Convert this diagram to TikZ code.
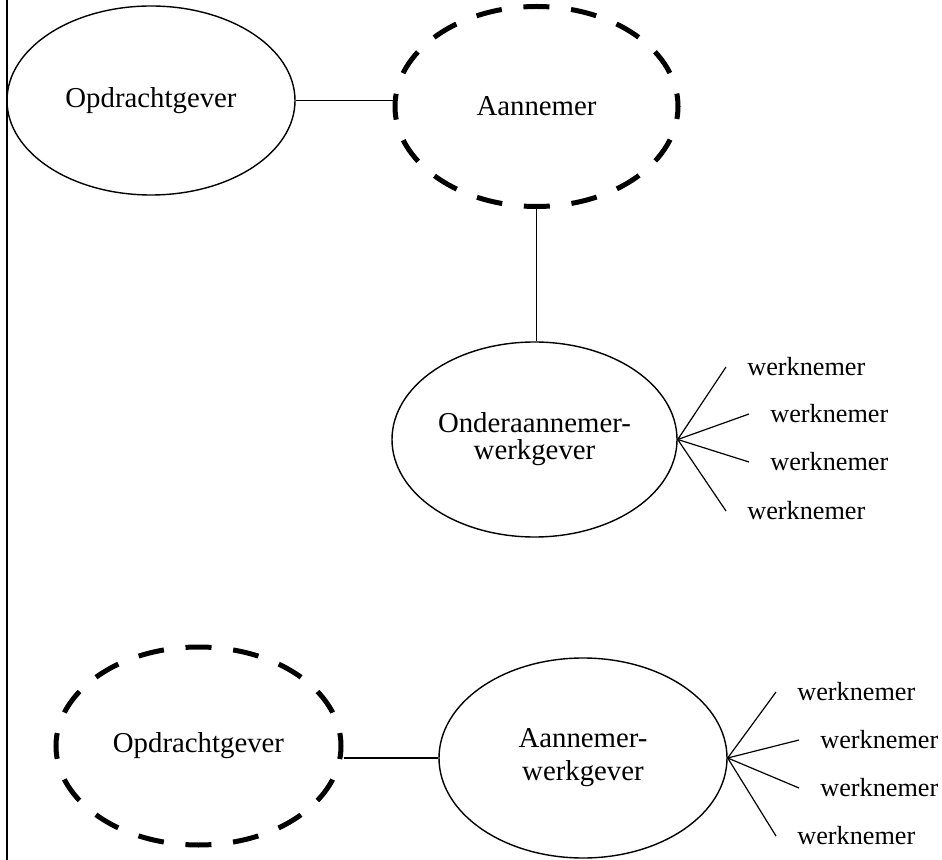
\documentclass[tikz,border=0pt]{standalone}
\usepackage{fontspec}
\setmainfont{Liberation Serif}
\usetikzlibrary{shapes.geometric}

\begin{document}
\begin{tikzpicture}[x=0.5pt,y=-0.5pt,
  partij/.style={draw, ellipse, inner sep=0pt, line width=0.7pt, align=center,
    font=\fontsize{14.4}{16.5}\selectfont},
  gestreept/.style={line width=2.5pt, dash pattern=on 13pt off 10.9pt, dash phase=6.5pt},
  wn/.style={anchor=west, inner sep=0pt, font=\fontsize{13.1}{15}\selectfont},
  lijn/.style={line width=0.6pt}]
\useasboundingbox (0,0) rectangle (942,860);
\draw[line width=1pt] (7,0) -- (7,860);

% bovenste schema
\node[partij, minimum width=144pt, minimum height=94.5pt] (opd) at (151,100.5) {Opdrachtgever};
\node[partij, gestreept, minimum width=141.5pt, minimum height=100pt] (aan) at (536.5,106.5) {Aannemer};
\node[partij, minimum width=142.5pt, minimum height=97.5pt,
  font=\fontsize{14.4}{13.5}\selectfont] (ond) at (534.5,439.5) {Onderaannemer-\\werkgever};

\node[wn] (w1) at (747,367) {werknemer};
\node[wn] (w2) at (770,414) {werknemer};
\node[wn] (w3) at (770,462) {werknemer};
\node[wn] (w4) at (747,511) {werknemer};

\path[draw,lijn] (opd.east) -- (opd.east -| aan.west);
\path[draw,lijn] (aan.south) -- (aan.south |- ond.north);
\foreach \w in {w1,w2,w3,w4}
  \path[draw,lijn] (ond.east) -- ([xshift=-10.5pt]\w.west);

% onderste schema
\node[partij, gestreept, minimum width=142.5pt, minimum height=99pt] (opd2) at (198.5,746) {Opdrachtgever};
\node[partij, minimum width=144pt, minimum height=100pt] (aanw) at (583,758) {Aannemer-\\werkgever};

\node[wn] (v1) at (797,692) {werknemer};
\node[wn] (v2) at (820,740) {werknemer};
\node[wn] (v3) at (820,788) {werknemer};
\node[wn] (v4) at (797,836) {werknemer};

\path[draw,lijn] (aanw.west -| opd2.east) -- (aanw.west);
\foreach \v in {v1,v2,v3,v4}
  \path[draw,lijn] (aanw.east) -- ([xshift=-10.5pt]\v.west);
\end{tikzpicture}
\end{document}
